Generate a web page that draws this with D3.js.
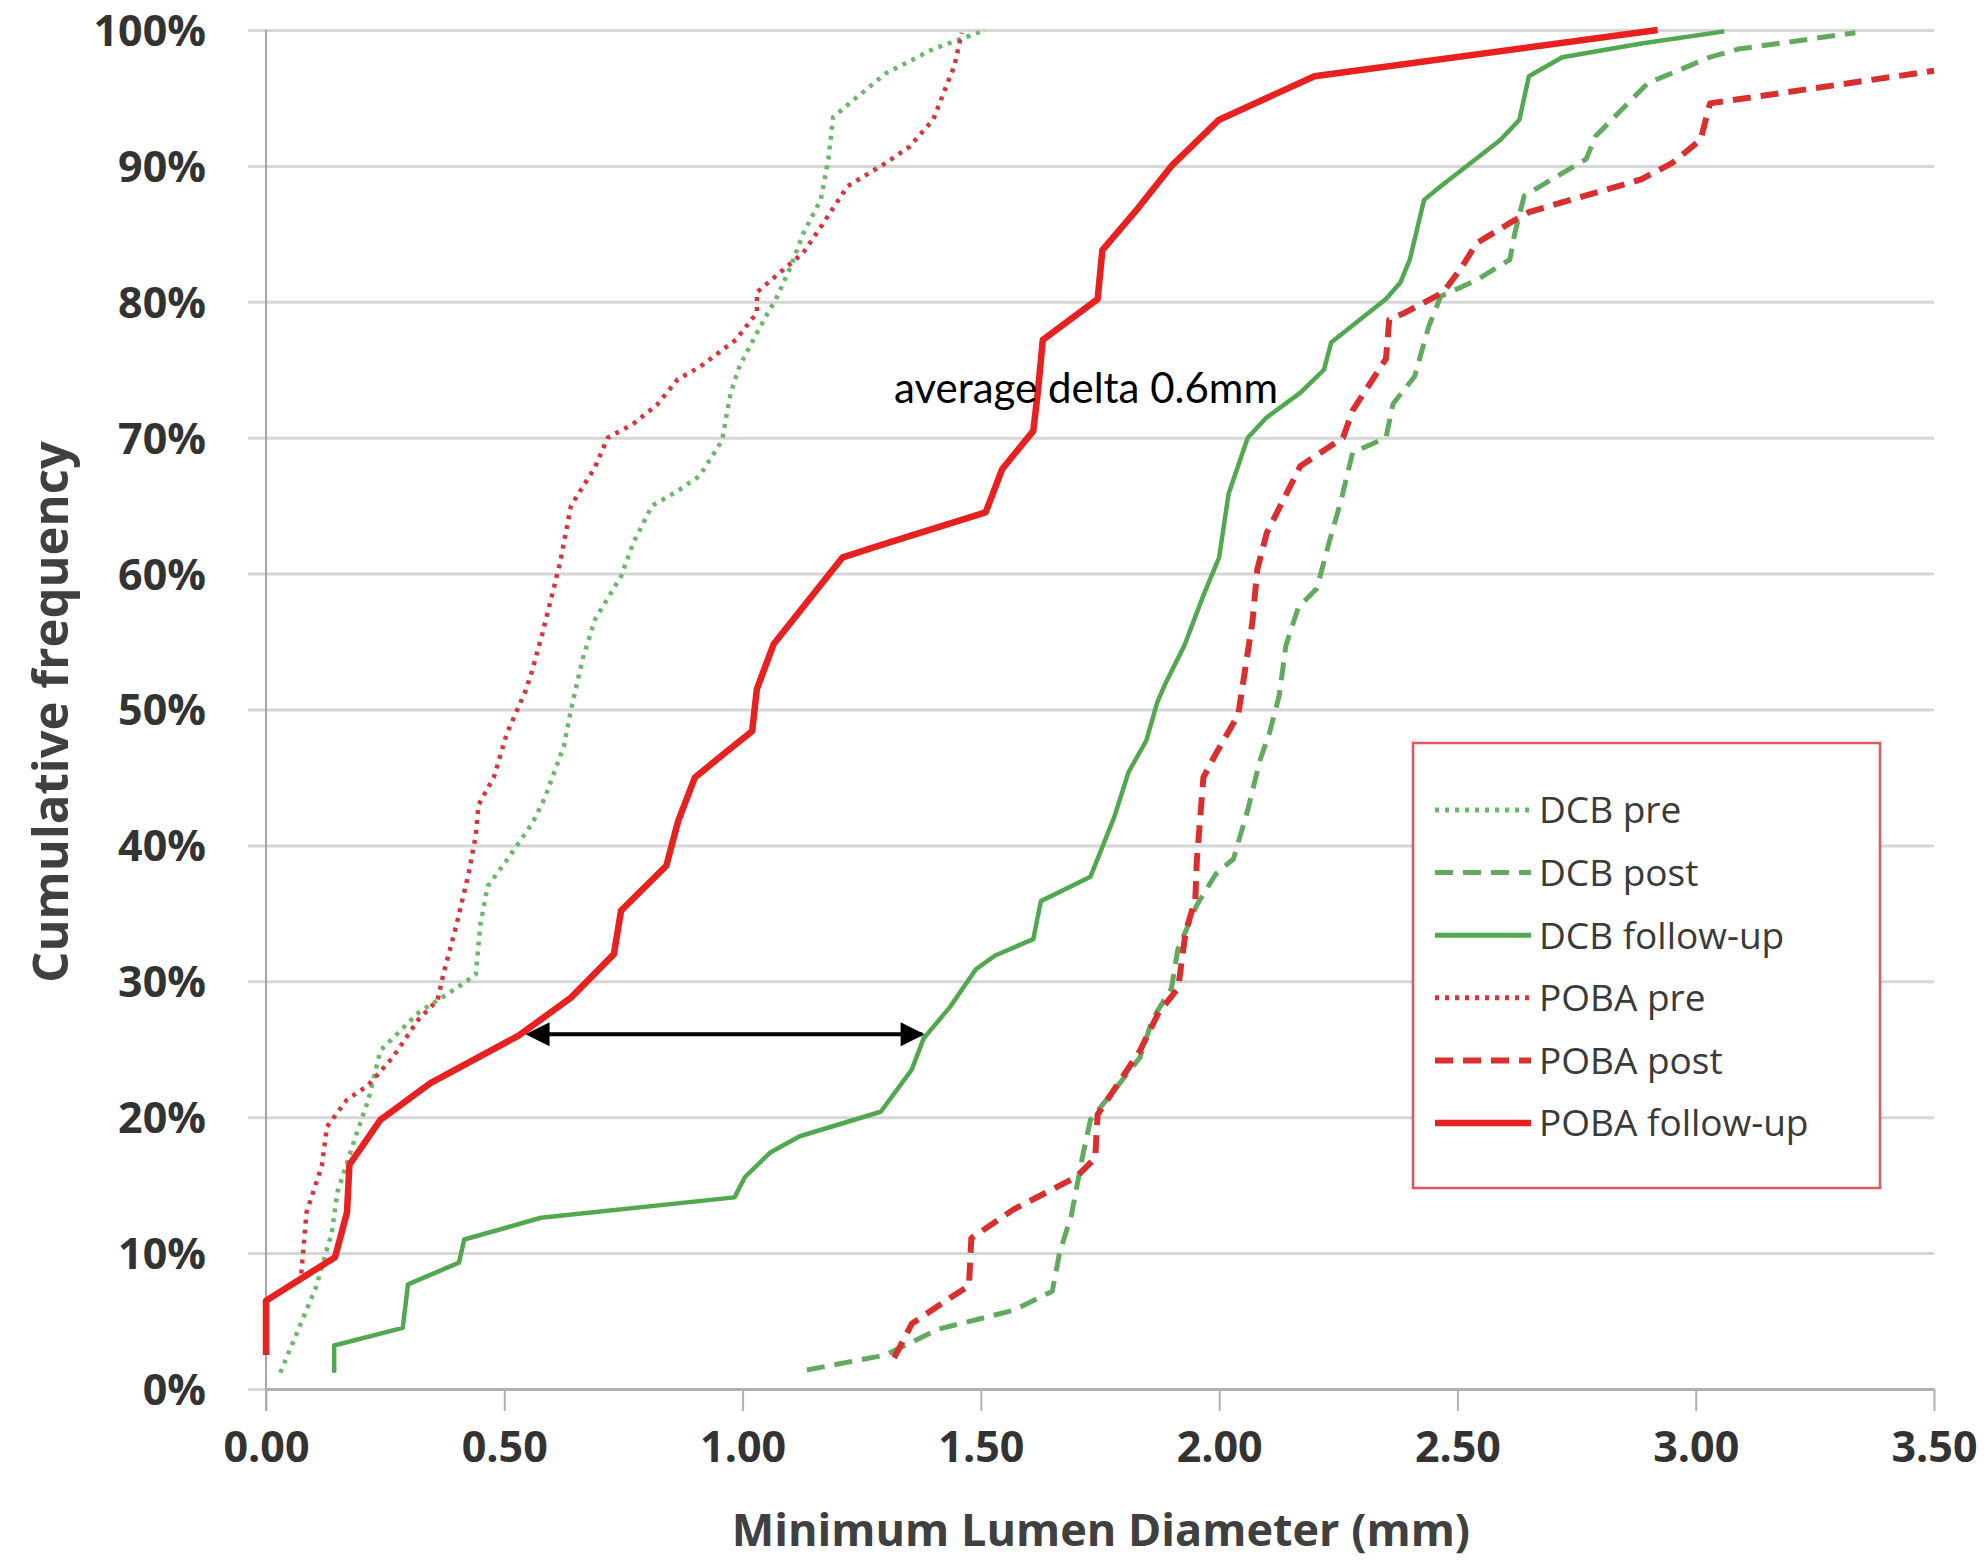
<!DOCTYPE html>
<html>
<head>
<meta charset="utf-8">
<script src="https://cdn.jsdelivr.net/npm/d3@7"></script>
<style>
  body { margin: 0; background: #fff; }
  .tick text { font-family: "Open Sans", sans-serif; font-weight: bold; font-size: 43px; fill: #333; }
  .axisLabel { font-family: "Open Sans", sans-serif; font-weight: bold; fill: #404040; }
  .legendText { font-family: "Open Sans", sans-serif; font-size: 37px; fill: #3a3a3a; }
</style>
</head>
<body>
<div id="chart"></div>
<script>

// DATA  (x = minimum lumen diameter in mm, y = cumulative frequency in %)

const xTicks = [0, 0.5, 1, 1.5, 2, 2.5, 3, 3.5];
const yTicks = [0, 10, 20, 30, 40, 50, 60, 70, 80, 90, 100];

const dcbPre = [[0.03,1.2],[0.105,7.5],[0.138,11.5],[0.15,14.5],[0.19,18.8],[0.215,21.3],[0.24,24.9],[0.32,27.7],
  [0.40,29.5],[0.44,30.5],[0.45,34.2],[0.465,37],[0.505,38.9],[0.56,41.7],[0.585,43.5],[0.625,47.3],[0.64,50],
  [0.665,53.8],[0.69,56.6],[0.745,59.8],[0.77,62.2],[0.81,65],[0.86,66],[0.91,67.2],[0.957,69.8],[0.96,70.4],
  [0.975,73.3],[0.994,75.3],[1.03,77.7],[1.05,79],[1.07,80.2],[1.10,82.5],[1.127,85],[1.164,87.5],[1.18,90.5],
  [1.19,93.6],[1.30,96.8],[1.40,98.6],[1.51,100]];

const dcbPost = [[1.135,1.4],[1.30,2.5],[1.41,4.4],[1.57,5.8],[1.65,7.2],[1.665,10],[1.69,12.8],[1.715,17.4],
  [1.73,19.8],[1.78,22],[1.834,24.4],[1.86,27.2],[1.90,29.5],[1.913,32.3],[1.953,35.6],[1.993,37.9],[2.03,39],
  [2.06,42.6],[2.086,46.3],[2.105,48.2],[2.126,51],[2.14,54.7],[2.166,57.5],[2.205,58.9],[2.23,62.2],[2.256,65.4],
  [2.28,68.9],[2.35,70],[2.365,72.5],[2.41,74.5],[2.44,78.2],[2.465,80.4],[2.54,81.6],[2.61,83.1],[2.62,85],
  [2.64,87.8],[2.77,90.5],[2.79,92.2],[2.9,96.1],[3.03,98],[3.09,98.6],[3.335,99.8]];

const dcbFollowUp = [[0.143,1.2],[0.143,3.2],[0.287,4.5],[0.298,7.7],[0.405,9.3],[0.416,11],[0.577,12.6],
  [0.983,14.1],[1.005,15.6],[1.058,17.4],[1.12,18.6],[1.29,20.4],[1.355,23.5],[1.38,25.8],[1.435,28.1],[1.49,30.9],
  [1.53,31.9],[1.61,33.1],[1.626,35.9],[1.73,37.7],[1.754,39.8],[1.78,42.1],[1.81,45.4],[1.847,47.7],[1.87,50.5],
  [1.887,51.9],[1.927,54.7],[1.967,58.4],[2.0,61.2],[2.02,65.9],[2.06,70],[2.1,71.5],[2.17,73.3],[2.22,75],
  [2.235,77],[2.35,80.2],[2.38,81.4],[2.40,83.1],[2.43,87.5],[2.465,88.5],[2.59,91.9],[2.63,93.4],[2.65,96.6],
  [2.72,98],[2.886,99],[3.06,99.9]];

const pobaPre = [[0.074,8.5],[0.085,13],[0.117,16.4],[0.128,19.3],[0.17,21.3],[0.213,22.3],[0.266,24.4],
  [0.32,27.2],[0.36,28.6],[0.372,30.5],[0.40,34.2],[0.425,37.9],[0.44,40.7],[0.446,43],[0.478,45],[0.505,48.2],
  [0.545,51.4],[0.558,52.8],[0.58,55.6],[0.60,58.4],[0.617,60.8],[0.64,65],[0.69,67.8],[0.717,70],[0.77,71],
  [0.82,72.4],[0.864,74.3],[0.91,75.2],[0.986,77.2],[1.03,79.2],[1.03,80.7],[1.09,82.5],[1.127,83.6],[1.164,85.5],
  [1.22,88.5],[1.30,90.2],[1.35,91.4],[1.40,93.4],[1.43,96.1],[1.444,97.3],[1.46,99.8]];

const pobaPost = [[1.318,2.3],[1.355,4.8],[1.435,6.7],[1.475,7.6],[1.48,11.1],[1.568,13.2],[1.70,15.6],[1.74,17],
  [1.745,20.2],[1.834,24.9],[1.873,27.7],[1.914,29.5],[1.93,33.7],[1.95,36],[1.953,38.8],[1.967,45],[1.994,46.8],
  [2.04,49.6],[2.07,56.5],[2.08,60.3],[2.10,63],[2.17,67.9],[2.26,70],[2.28,72],[2.35,75.8],[2.357,78.7],
  [2.39,79.2],[2.47,80.7],[2.51,82.6],[2.54,84.3],[2.61,85.8],[2.65,86.6],[2.885,89],[2.95,90.2],[3.01,91.9],
  [3.03,94.6],[3.5,97]];

const pobaFollowUp = [[0.0,2.5],[0.0,6.5],[0.145,9.7],[0.17,13],[0.175,16.5],[0.24,19.8],[0.345,22.5],[0.53,26],
  [0.64,28.8],[0.73,32],[0.745,35.2],[0.84,38.5],[0.865,41.8],[0.9,45],[0.97,47],[1.02,48.4],[1.03,51.5],
  [1.065,54.8],[1.21,61.2],[1.30,62.2],[1.51,64.5],[1.545,67.7],[1.61,70.5],[1.62,73.5],[1.63,77.2],[1.745,80.2],
  [1.755,83.8],[1.83,86.9],[1.90,90],[2.0,93.4],[2.2,96.6],[2.92,100]];

const seriesNames = ["DCB pre", "DCB post", "DCB follow-up", "POBA pre", "POBA post", "POBA follow-up"];
const seriesData = [dcbPre, dcbPost, dcbFollowUp, pobaPre, pobaPost, pobaFollowUp];

const arrowFrom = [0.59, 26.1];
const arrowTo = [1.377, 26.1];
const noteText = "average delta 0.6mm";

// STYLES

const styles = [
  {color: "#6cb86a", width: 4.5, dash: "4,6"},
  {color: "#62ab5e", width: 5, dash: "18,10"},
  {color: "#52a84f", width: 4.5, dash: null},
  {color: "#d8343c", width: 4.5, dash: "4,6"},
  {color: "#d9302f", width: 6, dash: "18,10"},
  {color: "#e8201f", width: 6.5, dash: null}
];

// MAKE SVG CANVAS

const width = 1986;
const height = 1563;
const margin = {top: 30, left: 266, right: 52, bottom: 174};

const svg = d3.select("#chart")
    .append("svg")
    .attr("width", width)
    .attr("height", height);

// SCALES

const xScale = d3.scaleLinear()
    .domain([0, 3.5])
    .range([margin.left, width - margin.right]);

const yScale = d3.scaleLinear()
    .domain([0, 100])
    .range([height - margin.bottom, margin.top]);

// GRIDLINES + AXES

const yAxis = svg.append("g")
    .attr("transform", `translate(${margin.left},0)`)
    .call(d3.axisLeft(yScale)
        .tickValues(yTicks)
        .tickSize(-(width - margin.left - margin.right))
        .tickSizeOuter(0)
        .tickPadding(60)
        .tickFormat(d => d + "%"));

yAxis.select(".domain").remove();
yAxis.selectAll(".tick line")
    .attr("x1", -18)
    .attr("stroke", "#d6d6d6")
    .attr("stroke-width", 3);
yAxis.selectAll(".tick text").attr("dy", "0.36em");

svg.append("line")
    .attr("x1", margin.left).attr("x2", margin.left)
    .attr("y1", yScale(100)).attr("y2", yScale(0) + 22)
    .attr("stroke", "#a6a6a6")
    .attr("stroke-width", 2);

const xAxis = svg.append("g")
    .attr("transform", `translate(0,${height - margin.bottom})`)
    .call(d3.axisBottom(xScale)
        .tickValues(xTicks)
        .tickSize(22)
        .tickSizeOuter(0)
        .tickPadding(20)
        .tickFormat(d3.format(".2f")));

xAxis.select(".domain").attr("stroke", "#b0b0b0").attr("stroke-width", 3);
xAxis.selectAll(".tick line").attr("stroke", "#b0b0b0").attr("stroke-width", 2);

// AXIS LABELS

svg.append("text")
    .attr("class", "axisLabel")
    .attr("x", 1101)
    .attr("y", 1546)
    .attr("text-anchor", "middle")
    .style("font-size", "45px")
    .text("Minimum Lumen Diameter (mm)");

svg.append("text")
    .attr("class", "axisLabel")
    .attr("transform", "rotate(-90)")
    .attr("x", -712)
    .attr("y", 68)
    .attr("text-anchor", "middle")
    .style("font-size", "49px")
    .text("Cumulative frequency");

// LINES

const line = d3.line()
    .x(function(d) { return xScale(d[0]); })
    .y(function(d) { return yScale(d[1]); });

svg.selectAll(".series")
    .data(seriesData)
    .enter()
    .append("path")
        .attr("class", "series")
        .attr("d", line)
        .attr("fill", "none")
        .attr("stroke", function(d, i) { return styles[i].color; })
        .attr("stroke-width", function(d, i) { return styles[i].width; })
        .attr("stroke-dasharray", function(d, i) { return styles[i].dash; })
        .attr("stroke-linejoin", "round");

// ANNOTATION

const defs = svg.append("defs");
["start", "end"].forEach(function(k) {
    defs.append("marker")
        .attr("id", "arrow-" + k)
        .attr("viewBox", "0 0 10 10")
        .attr("refX", k == "end" ? 9 : 1)
        .attr("refY", 5)
        .attr("markerWidth", 6.5)
        .attr("markerHeight", 6)
        .attr("orient", "auto-start-reverse")
        .append("path")
            .attr("d", "M0,0 L10,5 L0,10 z")
            .attr("fill", "#000");
});

svg.append("line")
    .attr("x1", xScale(arrowFrom[0]))
    .attr("y1", yScale(arrowFrom[1]))
    .attr("x2", xScale(arrowTo[0]))
    .attr("y2", yScale(arrowTo[1]))
    .attr("stroke", "#000")
    .attr("stroke-width", 4)
    .attr("marker-start", "url(#arrow-start)")
    .attr("marker-end", "url(#arrow-end)");

svg.append("text")
    .attr("x", 894)
    .attr("y", 403)
    .style("font-family", "Lato, sans-serif")
    .style("font-size", "42px")
    .attr("fill", "#000")
    .text(noteText);

// LEGEND

const legend = svg.append("g");

legend.append("rect")
    .attr("x", 1413)
    .attr("y", 743)
    .attr("width", 467)
    .attr("height", 445)
    .attr("fill", "#fff")
    .attr("stroke", "#e0575c")
    .attr("stroke-width", 2.5);

const legendRows = legend.selectAll(".row")
    .data(seriesNames)
    .enter()
    .append("g")
        .attr("class", "row")
        .attr("transform", function(d, i) { return `translate(1435, ${810 + i * 62.6})`; });

legendRows.append("line")
    .attr("x1", 0)
    .attr("x2", 96)
    .attr("stroke", function(d, i) { return styles[i].color; })
    .attr("stroke-width", function(d, i) { return Math.max(styles[i].width, 5); })
    .attr("stroke-dasharray", function(d, i) { return styles[i].dash; });

legendRows.append("text")
    .attr("class", "legendText")
    .attr("x", 104)
    .attr("dy", "0.36em")
    .text(function(d) { return d; });

</script>
</body>
</html>
